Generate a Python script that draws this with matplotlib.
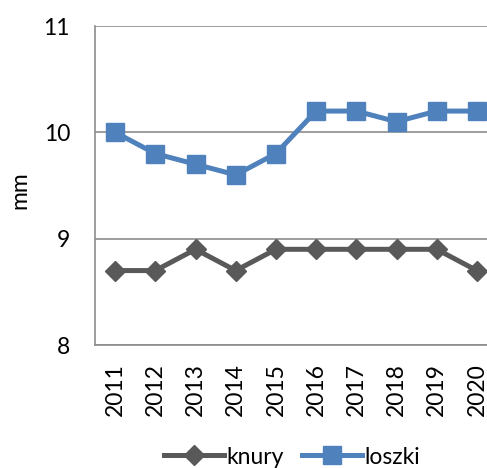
import matplotlib
matplotlib.use("Agg")
import matplotlib.pyplot as plt

years = ["2011", "2012", "2013", "2014", "2015", "2016", "2017", "2018", "2019", "2020"]
knury = [8.7, 8.7, 8.9, 8.7, 8.9, 8.9, 8.9, 8.9, 8.9, 8.7]
loszki = [10.0, 9.8, 9.7, 9.6, 9.8, 10.2, 10.2, 10.1, 10.2, 10.2]

plt.rcParams['font.family'] = ['Lato', 'DejaVu Sans']
FS = 16.5

fig = plt.figure(figsize=(4.87, 4.68), dpi=100)
ax = fig.add_axes([95/487, 1-345/468, 402/487, (345-26)/468])

x = list(range(len(years)))
ax.plot(x, knury, color='#595959', lw=3.6, marker='D', markersize=10, label='knury', clip_on=False, zorder=3)
ax.plot(x, loszki, color='#4F81BD', lw=3.6, marker='s', markersize=13, label='loszki', clip_on=False, zorder=3)

ax.set_xlim(-0.5, 9.5)
ax.set_ylim(8, 11)
ax.set_yticks([8, 9, 10, 11])
ax.set_yticklabels(['8', '9', '10', '11'])
ax.set_xticks(x)
ax.set_xticklabels(years, rotation=90)
ax.tick_params(axis='both', length=0, labelsize=FS, colors='black')
ax.tick_params(axis='y', pad=18)
ax.tick_params(axis='x', pad=13)
ax.grid(axis='y', color='#8c8c8c', lw=1.2)
ax.set_axisbelow(True)
for s in ['top', 'right']:
    ax.spines[s].set_visible(False)
for s in ['left', 'bottom']:
    ax.spines[s].set_color('#8c8c8c')
    ax.spines[s].set_linewidth(1.2)

fig.text(20/487, 1-190/468, 'mm', rotation=90, ha='center', va='center', fontsize=FS)

fig.legend(loc='center', bbox_to_anchor=(292/487, 1-457/468), ncol=2, frameon=False,
           fontsize=FS, handlelength=2.6, columnspacing=0.8, handletextpad=0.1)

fig.savefig('out.png', dpi=100)
